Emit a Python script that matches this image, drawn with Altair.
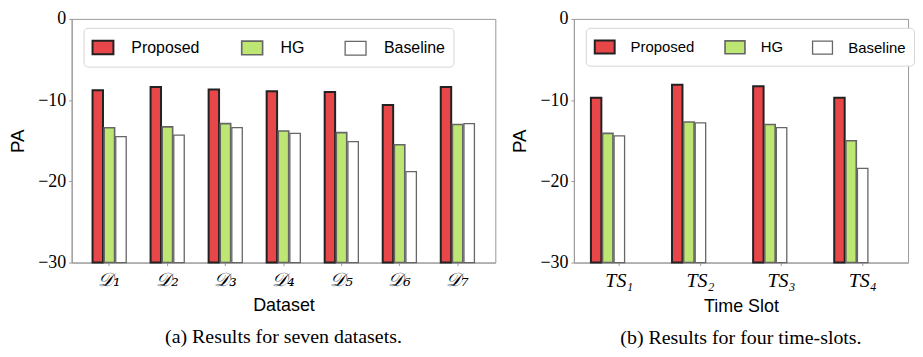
import altair as alt
import pandas as pd

methods = ["Proposed", "HG", "Baseline"]
colors = ["#e8474a", "#bde672", "#ffffff"]
strokes = ["#222222", "#666666", "#666666"]

datasets = ["𝒟₁", "𝒟₂", "𝒟₃", "𝒟₄", "𝒟₅", "𝒟₆", "𝒟₇"]
ds_proposed = [-8.8, -8.4, -8.7, -8.9, -9.0, -10.6, -8.4]
ds_hg = [-13.4, -13.3, -12.9, -13.8, -14.0, -15.5, -13.0]
ds_baseline = [-14.5, -14.3, -13.4, -14.1, -15.1, -18.8, -12.9]

slots = ["TS₁", "TS₂", "TS₃", "TS₄"]
ts_proposed = [-9.7, -8.1, -8.3, -9.7]
ts_hg = [-14.1, -12.7, -13.0, -15.0]
ts_baseline = [-14.4, -12.8, -13.4, -18.4]

y_ticks = [0, -10, -20, -30]


def frame(cats, p, h, b):
    rows = []
    for i, c in enumerate(cats):
        for m, v in zip(methods, [p[i], h[i], b[i]]):
            rows.append({"cat": c, "method": m, "value": v, "base": -30})
    return pd.DataFrame(rows)


def panel(df, cats, xtitle, caption, w, pin, pout, lx, colpad, lfs, ssize, loff,
          labfont, labsize):
    leg = alt.Legend(
        title=None, orient="none", legendX=lx, legendY=9, direction="horizontal",
        columns=3, columnPadding=colpad, symbolType="M-1,-0.65L1,-0.65L1,0.65L-1,0.65Z",
        symbolSize=ssize, labelFont="Liberation Sans", labelFontSize=lfs, labelColor="#000",
        labelOffset=loff, padding=8, fillColor="white", strokeColor="#d6d6d6",
        cornerRadius=4,
    )
    return alt.Chart(df).mark_bar().encode(
        x=alt.X("cat:N", sort=cats, title=xtitle,
                scale=alt.Scale(paddingInner=pin, paddingOuter=pout),
                axis=alt.Axis(labelAngle=0, labelFont=labfont, labelFontStyle="italic",
                              labelFontSize=labsize, labelColor="#000", labelPadding=5,
                              titleFont="Liberation Sans", titleFontSize=18,
                              titleFontWeight="normal", titleColor="#000", titlePadding=7,
                              domainColor="#999", tickColor="#999", tickSize=3)),
        xOffset=alt.XOffset("method:N", sort=methods, scale=alt.Scale(paddingInner=0.1)),
        y=alt.Y("value:Q", title="PA", scale=alt.Scale(domain=[-30, 0], nice=False),
                axis=alt.Axis(values=y_ticks, format="d", grid=False,
                              labelFont="Liberation Serif", labelFontSize=18,
                              labelColor="#000", labelPadding=3,
                              titleFont="Liberation Sans", titleFontSize=19,
                              titleFontWeight="normal", titleColor="#000", titlePadding=10,
                              domainColor="#999", tickColor="#999", tickSize=3)),
        y2=alt.Y2("base:Q"),
        fill=alt.Fill("method:N", sort=methods,
                      scale=alt.Scale(domain=methods, range=colors), legend=leg),
        stroke=alt.Stroke("method:N", sort=methods,
                          scale=alt.Scale(domain=methods, range=strokes), legend=leg),
        strokeWidth=alt.StrokeWidth("method:O", sort=methods,
                                    scale=alt.Scale(domain=methods, range=[2, 1.3, 1.3]),
                                    legend=leg),
    ).properties(
        width=w, height=245,
        title=alt.Title(caption, orient="bottom", font="Liberation Serif", fontSize=20,
                        fontWeight="normal", color="#000", offset=13),
    )


left = panel(frame(datasets, ds_proposed, ds_hg, ds_baseline), datasets, "Dataset",
             "(a) Results for seven datasets.", 426, 0.42, 0.36, 12, 38, 16, 441, 17,
             "DejaVu Serif", 19)
right = panel(frame(slots, ts_proposed, ts_hg, ts_baseline), slots, "Time Slot",
              "(b) Results for four time-slots.", 336, 0.3, 0.21, 12, 26, 15, 400, 15,
              "Liberation Serif", 20)

chart = alt.hconcat(left, right, spacing=14).resolve_scale(
    x="independent", fill="independent", stroke="independent", strokeWidth="independent"
).resolve_legend(
    fill="independent", stroke="independent", strokeWidth="independent"
).configure_view(stroke="#999").properties(padding={"left": 0, "top": 0, "right": 0, "bottom": 0})

chart.save("out.html", embed_options={"renderer": "svg", "actions": False})
